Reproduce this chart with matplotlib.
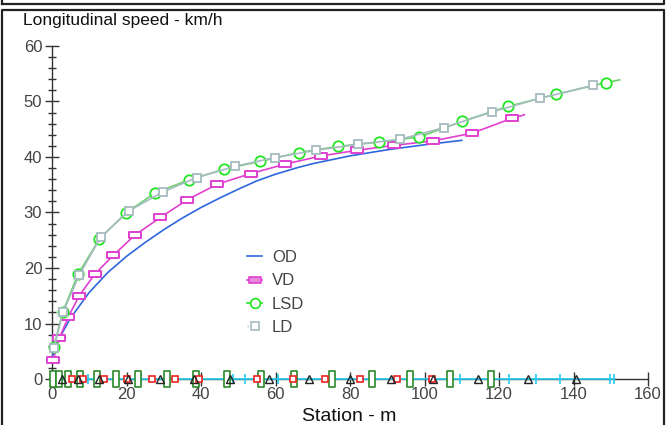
import matplotlib
matplotlib.use("Agg")
import matplotlib.pyplot as plt
from matplotlib.path import Path
from matplotlib.lines import Line2D

plt.rcParams['font.family'] = ['Liberation Sans', 'DejaVu Sans']

# ---- data ----
od_x = [0, 2, 5, 10, 15, 20, 25, 30, 35, 40, 45, 50, 55, 60, 66, 70, 80, 90, 100, 105, 110]
od_y = [4.0, 7.4, 11.0, 15.6, 19.2, 22.1, 24.6, 26.9, 29.0, 30.9, 32.6, 34.2, 35.7, 36.9, 38.1, 38.8, 40.2, 41.3, 42.2, 42.6, 43.0]

vd_x = [0.3, 2.0, 4.4, 7.3, 11.5, 16.5, 22.2, 29.1, 36.3, 44.4, 53.3, 62.5, 72.3, 81.8, 91.9, 102.3, 112.8, 123.6, 126.8]
vd_y = [3.4, 7.4, 11.2, 15.0, 18.9, 22.3, 25.9, 29.1, 32.3, 35.1, 37.0, 38.7, 40.2, 41.2, 42.1, 42.9, 44.3, 47.0, 47.6]
vd_mark = list(range(18))

lsd_x = [0.5, 2.9, 7.0, 12.7, 19.8, 27.6, 36.8, 46.2, 55.8, 66.2, 76.7, 87.8, 98.6, 110.0, 122.3, 135.3, 148.7, 152.4]
lsd_y = [5.8, 12.1, 18.9, 25.2, 29.9, 33.5, 35.9, 37.8, 39.2, 40.8, 41.9, 42.7, 43.6, 46.4, 49.1, 51.3, 53.4, 53.9]
lsd_mark = list(range(17))

ld_x = [0.5, 3.0, 7.3, 13.1, 20.7, 29.7, 38.9, 49.0, 59.8, 70.8, 82.2, 93.5, 105.3, 118.0, 131.1, 145.3]
ld_y = [5.6, 12.1, 18.7, 25.6, 30.3, 33.7, 36.3, 38.3, 39.9, 41.2, 42.3, 43.2, 45.3, 48.1, 50.6, 52.9]

# series lying on the zero line
green_x = [0.3, 1.9, 4.3, 7.5, 12.1, 17.2, 23.0, 30.8, 38.6, 46.9, 56.0, 65.1, 75.3, 85.8, 96.2, 106.9, 117.9]
red_x = [5.4, 8.3, 14.0, 20.0, 26.8, 33.0, 39.4, 54.9, 64.6, 73.2, 82.6, 92.5, 101.9]
tri_x = [2.7, 7.0, 12.6, 20.4, 28.9, 38.1, 47.7, 58.2, 69.1, 79.9, 91.1, 102.4, 114.4, 127.8, 140.7]
cyan_x = [0, 9.6, 24.0, 48.5, 51.7, 60.6, 109.4, 122.8, 130.0, 136.4, 149.8, 150.9]
zero_level = 0

legend_labels = ["OD", "VD", "LSD", "LD"]
x_ticks = [0, 20, 40, 60, 80, 100, 120, 140, 160]
y_ticks = [0, 10, 20, 30, 40, 50, 60]

# ---- styling ----
c_od = "#2f66dd"
c_vd = "#e040d0"
c_lsd = "#22e622"
c_lsd_line = "#6ecf6e"
c_ld = "#a6bcc0"
c_cyan = "#22ccee"

rect_marker = Path([(-1, -0.5), (1, -0.5), (1, 0.5), (-1, 0.5), (-1, -0.5)],
                   [Path.MOVETO, Path.LINETO, Path.LINETO, Path.LINETO, Path.CLOSEPOLY])
tall_marker = Path([(-0.45, -1), (0.45, -1), (0.45, 1), (-0.45, 1), (-0.45, -1)],
                   [Path.MOVETO, Path.LINETO, Path.LINETO, Path.LINETO, Path.CLOSEPOLY])

fig = plt.figure(figsize=(6.66, 4.25), dpi=100)
W, H = 666, 425

# outer frames
fig.add_artist(Line2D([2 / W, 664 / W, 664 / W], [1 - 4 / H, 1 - 4 / H, 1], color="#222222", lw=1.6,
                      transform=fig.transFigure))
fig.add_artist(Line2D([2 / W, 2 / W], [1 - 4 / H, 1], color="#222222", lw=1.6, transform=fig.transFigure))
fig.add_artist(Line2D([2 / W, 2 / W, 664 / W, 664 / W], [0, 1 - 9.5 / H, 1 - 9.5 / H, 0], color="#222222", lw=1.6,
                      transform=fig.transFigure))

ax = fig.add_axes([52 / W, (H - 379) / H, 596 / W, 333 / H])
ax.set_xlim(0, 160)
ax.set_ylim(0, 60)
for s in ["top", "right"]:
    ax.spines[s].set_visible(False)
ax.spines["left"].set_color("#333333")
ax.spines["bottom"].set_color("#333333")
ax.spines["left"].set_linewidth(1.0)
ax.spines["bottom"].set_linewidth(1.0)

ax.set_xticks(x_ticks)
ax.set_yticks(y_ticks)
ax.set_yticks([v for v in range(0, 61, 2) if v % 10], minor=True)
ax.tick_params(axis="both", which="major", direction="inout", length=10, width=1.0, color="#333333",
               labelsize=12, labelcolor="#444444")
ax.tick_params(axis="y", which="minor", direction="inout", length=6, width=1.0, color="#333333")
ax.tick_params(axis="x", which="major", pad=0.5)
ax.tick_params(axis="y", which="major", pad=2)

# zero-line series
ax.plot([cyan_x[0], cyan_x[-1]], [zero_level, zero_level], color=c_cyan, lw=1.2, clip_on=False, zorder=3)
ax.plot(cyan_x, [zero_level] * len(cyan_x), ls="none", marker="|", ms=7, mew=1.2, color=c_cyan,
        clip_on=False, zorder=4)
ax.plot(green_x, [zero_level] * len(green_x), ls="none", marker=tall_marker, ms=11, mfc="white",
        mec="#2a8a2a", mew=1.2, clip_on=False, zorder=5)
ax.plot(red_x, [zero_level] * len(red_x), ls="none", marker="s", ms=4.5, mfc="white",
        mec="#ee2222", mew=1.2, clip_on=False, zorder=5)
ax.plot(tri_x, [zero_level] * len(tri_x), ls="none", marker="^", ms=6, mfc="none",
        mec="#222222", mew=1.0, clip_on=False, zorder=5)

# main series
ax.plot(od_x, od_y, color=c_od, lw=1.2, zorder=6, clip_on=False)
ax.plot(vd_x, vd_y, color=c_vd, lw=1.2, marker=rect_marker, ms=9, mfc="white", mec=c_vd, mew=1.4,
        markevery=vd_mark, zorder=7, clip_on=False)
ax.plot(lsd_x, lsd_y, color=c_lsd_line, lw=1.2, marker="o", ms=7.5, mfc="white", mec=c_lsd, mew=1.3,
        markevery=lsd_mark, zorder=8, clip_on=False)
ax.plot(ld_x, ld_y, color=c_ld, lw=1.2, marker="s", ms=6.2, mfc="white", mec=c_ld, mew=1.3,
        zorder=9, clip_on=False)

# legend
h_od = Line2D([], [], color=c_od, lw=1.2)
h_vd = Line2D([], [], color=c_vd, lw=1.2, marker=rect_marker, ms=8, mfc="#e888dd", mec=c_vd, mew=1.2)
h_lsd = Line2D([], [], color=c_lsd, lw=1.2, marker="o", ms=7, mfc="white", mec=c_lsd, mew=1.2)
h_ld = Line2D([], [], color=c_ld, lw=1.0, ls=":", marker="s", ms=5.5, mfc="white", mec=c_ld, mew=1.2)
leg = ax.legend([h_od, h_vd, h_lsd, h_ld], legend_labels, loc="upper left",
                bbox_to_anchor=((232 - 52) / 596, (379 - 235) / 333), frameon=False,
                fontsize=12, labelcolor="#444444", handlelength=0.9, handletextpad=0.6,
                labelspacing=0.5)

fig.text(23 / W, 1 - 20 / H, "Longitudinal speed - km/h", fontsize=12.5, color="#111111",
         ha="left", va="center")
fig.text(349 / W, 1 - 421 / H, "Station - m", fontsize=14, color="#111111", ha="center", va="baseline")

fig.savefig("out.png", dpi=100)
